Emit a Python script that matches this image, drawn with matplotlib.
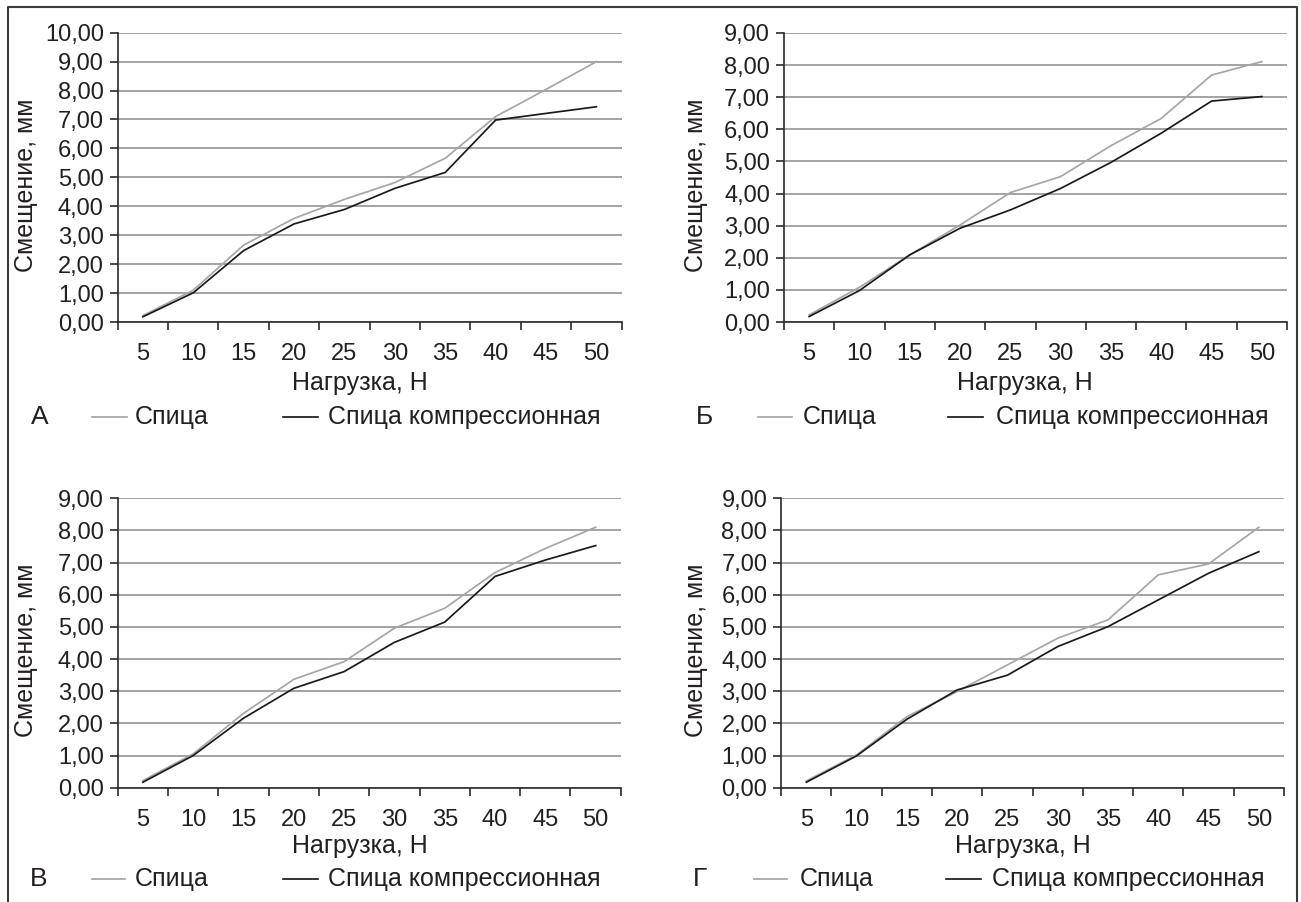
import numpy as np
import matplotlib
matplotlib.use('Agg')
import matplotlib.pyplot as plt
from matplotlib.lines import Line2D

W, H, DPI = 1301, 902, 100

# ---------------- data ----------------
loads = ['5', '10', '15', '20', '25', '30', '35', '40', '45', '50']

a_spica = [0.22, 1.10, 2.66, 3.58, 4.24, 4.82, 5.66, 7.10, 8.04, 9.00]
a_comp = [0.18, 1.01, 2.47, 3.39, 3.89, 4.62, 5.17, 6.98, 7.21, 7.44]

b_spica = [0.22, 1.08, 2.09, 3.02, 4.03, 4.53, 5.49, 6.34, 7.69, 8.11]
b_comp = [0.17, 0.98, 2.09, 2.92, 3.49, 4.16, 4.97, 5.88, 6.88, 7.02]

v_spica = [0.22, 1.05, 2.31, 3.37, 3.92, 4.96, 5.58, 6.69, 7.44, 8.10]
v_comp = [0.17, 1.00, 2.16, 3.09, 3.61, 4.52, 5.15, 6.57, 7.08, 7.53]

g_spica = [0.21, 1.02, 2.21, 2.99, 3.82, 4.65, 5.22, 6.62, 6.96, 8.10]
g_comp = [0.17, 0.99, 2.13, 3.04, 3.50, 4.39, 5.01, 5.84, 6.67, 7.34]

yticks_10 = ['0,00', '1,00', '2,00', '3,00', '4,00', '5,00', '6,00', '7,00', '8,00', '9,00', '10,00']
yticks_9 = yticks_10[:10]

letters = ['А', 'Б', 'В', 'Г']
series_names = ['Спица', 'Спица компрессионная']
xlabel_text = 'Нагрузка, Н'
ylabel_text = 'Смещение, мм'

# ---------------- style ----------------
plt.rcParams['font.family'] = ['Liberation Sans', 'DejaVu Sans']
FS_TICK = 17
FS = 18
TXT = '#231f20'
GREY_LINE = '#a6a6a6'
BLACK_LINE = '#1a1a1a'
GRID = '#8a8a8a'
SPINE = '#2a2a2a'

fig = plt.figure(figsize=(W / DPI, H / DPI), dpi=DPI)
fig.patch.set_facecolor('white')


def fx(x):
    return x / W


def fy(y):
    return 1 - y / H


def add_axes_px(left, top, right, bottom):
    return fig.add_axes([fx(left), fy(bottom), (right - left) / W, (bottom - top) / H])


panels = [
    dict(box=(117.7, 32.7, 621.6, 322.0), s=a_spica, c=a_comp, yl=yticks_10,
         ylab=(26, 185), xlab=(360, 383), leg_y=417, letter_x=39.5,
         gl=(91.5, 127), gt=135, bl=(283, 318), bt=328.5),
    dict(box=(784.0, 33.0, 1287.0, 322.0), s=b_spica, c=b_comp, yl=yticks_9,
         ylab=(696, 185), xlab=(1025, 383), leg_y=417, letter_x=704,
         gl=(757.5, 791.6), gt=803, bl=(948, 983), bt=995.7),
    dict(box=(117.7, 498.3, 620.8, 787.7), s=v_spica, c=v_comp, yl=yticks_9,
         ylab=(26, 650), xlab=(360, 846), leg_y=879, letter_x=38.5,
         gl=(91.5, 125), gt=135, bl=(283, 318), bt=328.5),
    dict(box=(781.2, 498.3, 1284.0, 787.7), s=g_spica, c=g_comp, yl=yticks_9,
         ylab=(696, 650), xlab=(1023, 846), leg_y=879, letter_x=700,
         gl=(754, 787), gt=800, bl=(946, 981), bt=992),
]

for letter, p in zip(letters, panels):
    ax = add_axes_px(*p['box'])
    x = np.arange(len(loads))
    ax.plot(x, p['s'], color=GREY_LINE, lw=1.25, solid_joinstyle='miter', zorder=3)
    ax.plot(x, p['c'], color=BLACK_LINE, lw=1.25, solid_joinstyle='miter', zorder=4)

    ny = len(p['yl'])
    ax.set_ylim(0, ny - 1)
    ax.set_xlim(-0.5, len(loads) - 0.5)
    ax.set_yticks(np.arange(ny))
    ax.set_yticklabels(p['yl'])
    ax.set_xticks(np.arange(-0.5, len(loads), 1.0))
    ax.set_xticklabels([])
    ax.set_xticks(x, minor=True)
    ax.set_xticklabels(loads, minor=True)

    ax.tick_params(axis='x', which='major', direction='out', length=6, width=1.2, color=SPINE)
    ax.tick_params(axis='x', which='minor', length=0, pad=15, labelsize=FS_TICK, labelcolor=TXT)
    ax.tick_params(axis='y', direction='out', length=6, width=1.2, color=SPINE,
                   pad=4, labelsize=FS_TICK, labelcolor=TXT)

    for sp in ['top', 'right']:
        ax.spines[sp].set_visible(False)
    for sp in ['left', 'bottom']:
        ax.spines[sp].set_color(SPINE)
        ax.spines[sp].set_linewidth(1.2)
        ax.spines[sp].set_zorder(5)
    ax.grid(axis='y', color=GRID, lw=1.1)
    ax.set_axisbelow(True)
    ax.patch.set_alpha(0)

    # axis titles
    fig.text(fx(p['ylab'][0]), fy(p['ylab'][1]), ylabel_text, rotation=90,
             ha='center', va='center', fontsize=FS, color=TXT)
    fig.text(fx(p['xlab'][0]), fy(p['xlab'][1]), xlabel_text,
             ha='center', va='center', fontsize=FS, color=TXT)

    # legend row
    ly = p['leg_y']
    fig.text(fx(p['letter_x']), fy(ly), letter, ha='center', va='center',
             fontsize=FS + 1, color=TXT)
    fig.add_artist(Line2D([fx(p['gl'][0]), fx(p['gl'][1])], [fy(ly), fy(ly)],
                          color=GREY_LINE, lw=1.25, transform=fig.transFigure))
    fig.text(fx(p['gt']), fy(ly), series_names[0], ha='left', va='center',
             fontsize=FS, color=TXT)
    fig.add_artist(Line2D([fx(p['bl'][0]), fx(p['bl'][1])], [fy(ly), fy(ly)],
                          color=BLACK_LINE, lw=1.25, transform=fig.transFigure))
    fig.text(fx(p['bt']), fy(ly), series_names[1], ha='left', va='center',
             fontsize=FS, color=TXT)

# outer frame (left, top, right; open at the bottom)
fig.add_artist(Line2D([fx(7.5), fx(7.5), fx(1296.5), fx(1296.5)],
                      [fy(902), fy(7), fy(7), fy(902)],
                      color='#3a3a3a', lw=1.5, transform=fig.transFigure))

fig.savefig('out.png', dpi=DPI, facecolor='white')
